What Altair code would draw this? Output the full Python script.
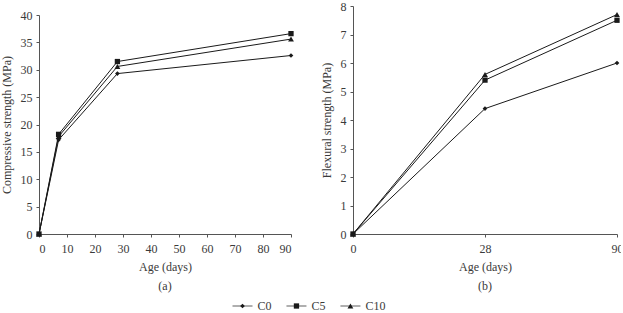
import altair as alt
import pandas as pd

# Mix series and their marker shapes
series = ["C0", "C5", "C10"]
shapes = ["diamond", "square", "triangle-up"]
marker_sizes = [22, 34, 38]

# (a) Compressive strength (MPa) against age in days
comp_age = [0, 7, 28, 90]
comp_c0 = [0, 17.2, 29.3, 32.6]
comp_c5 = [0, 18.2, 31.5, 36.6]
comp_c10 = [0, 17.8, 30.6, 35.6]

# (b) Flexural strength (MPa) against age in days
flex_age = ["0", "28", "90"]
flex_c0 = [0, 4.4, 6.0]
flex_c5 = [0, 5.4, 7.5]
flex_c10 = [0, 5.6, 7.7]

FONT = "Liberation Serif"
TEXT = "#3a3a3a"
INK = "#1a1a1a"
FS = 12


def long_table(ages, columns):
    rows = []
    for name, vals in zip(series, columns):
        for a, v in zip(ages, vals):
            rows.append({"age": a, "value": v, "series": name})
    return pd.DataFrame(rows)


df_a = long_table(comp_age, [comp_c0, comp_c5, comp_c10])
df_b = long_table(flex_age, [flex_c0, flex_c5, flex_c10])

shape_enc = alt.Shape("series:N", scale=alt.Scale(domain=series, range=shapes), legend=None)
size_enc = alt.Size("series:N", scale=alt.Scale(domain=series, range=marker_sizes), legend=None)


def panel_title(label):
    return alt.TitleParams(label, orient="bottom", anchor="middle", font=FONT,
                           fontSize=FS, fontWeight="normal", color=TEXT, offset=9)


H = 228
x_axis_style = dict(labelPadding=6, titlePadding=7)

# Panel (a)
base_a = alt.Chart(df_a).encode(
    x=alt.X("age:Q", scale=alt.Scale(domain=[0, 90], nice=False),
            axis=alt.Axis(values=list(range(0, 91, 10)), title="Age (days)", **x_axis_style)),
    y=alt.Y("value:Q", scale=alt.Scale(domain=[0, 40], range=[H, 9], nice=False),
            axis=alt.Axis(values=list(range(0, 41, 5)), title="Compressive strength (MPa)")),
    detail="series:N",
)
left = alt.layer(
    base_a.mark_line(color=INK, strokeWidth=1),
    base_a.mark_point(filled=True, color=INK, opacity=1).encode(shape=shape_enc, size=size_enc),
).properties(width=252, height=H, title=panel_title("(a)"))

# Panel (b)
base_b = alt.Chart(df_b).encode(
    x=alt.X("age:N", sort=flex_age, scale=alt.Scale(type="point", padding=0),
            axis=alt.Axis(labelAngle=0, title="Age (days)", **x_axis_style)),
    y=alt.Y("value:Q", scale=alt.Scale(domain=[0, 8], nice=False),
            axis=alt.Axis(values=list(range(0, 9)), title="Flexural strength (MPa)")),
    detail="series:N",
)
right = alt.layer(
    base_b.mark_line(color=INK, strokeWidth=1),
    base_b.mark_point(filled=True, color=INK, opacity=1).encode(shape=shape_enc, size=size_enc),
).properties(width=264, height=H, title=panel_title("(b)"))

# Shared legend row: line segment, marker, label
leg_base = alt.Chart(pd.DataFrame({"series": series})).encode(
    x=alt.X("series:N", sort=series,
            scale=alt.Scale(type="point", padding=0.64, align=0), axis=None),
    y=alt.value(5),
)
legend = alt.layer(
    leg_base.mark_tick(orient="horizontal", size=20, thickness=1, color=INK),
    leg_base.mark_point(filled=True, color=INK, opacity=1).encode(shape=shape_enc, size=size_enc),
    leg_base.mark_text(align="left", dx=15, font=FONT, fontSize=FS, color=TEXT).encode(text="series:N"),
).properties(width=177, height=10)

chart = alt.vconcat(
    alt.hconcat(left, right, spacing=26),
    legend,
    center=True,
    spacing=8,
).properties(
    padding={"left": 0, "top": 0, "right": -2, "bottom": 0},
    background="white",
).configure_view(stroke=None).configure_axis(
    grid=False,
    labelFont=FONT, labelFontSize=FS, labelColor=TEXT,
    titleFont=FONT, titleFontSize=FS, titleFontWeight="normal", titleColor=TEXT,
    domainColor="#555", tickColor="#555", tickSize=3, labelPadding=4, titlePadding=7,
)

chart.save("out.html", embed_options={"renderer": "svg", "actions": False})
